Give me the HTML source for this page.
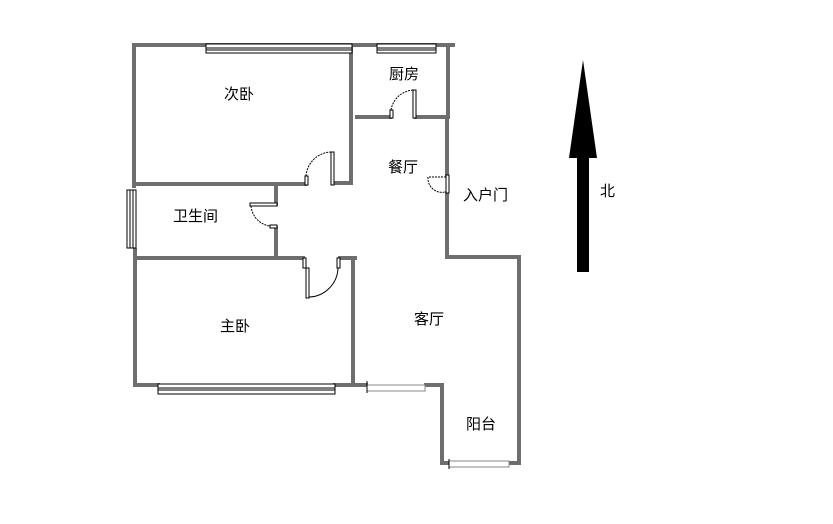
<!DOCTYPE html>
<html><head><meta charset="utf-8"><style>
body{margin:0;background:#fff;width:833px;height:519px;overflow:hidden}
text{font-family:"Liberation Sans","Noto Sans CJK SC",sans-serif;font-size:15px;fill:#000}
</style></head><body>
<svg width="833" height="519" viewBox="0 0 833 519">
<g stroke="#6e6e6e" stroke-width="4" fill="none" stroke-linecap="square">
<path d="M134 45 H453"/>
<path d="M134 45 V186"/>
<path d="M135 250 V385 H158"/>
<path d="M335 385 H366"/>
<path d="M351 45 V183 H334"/>
<path d="M305 184 H134"/>
<path d="M448 45 V117 H416"/>
<path d="M390 117 H357"/>
<path d="M447 117 V175"/>
<path d="M447 193 V257 H519 V463 H509"/>
<path d="M449 463 H442 V385 H426"/>
<path d="M276 186 V204"/>
<path d="M276 228 V257"/>
<path d="M136 258 H303"/>
<path d="M340 258 H355"/>
<path d="M353 260 V383"/>
</g>
<g fill="#fff" stroke="#000" stroke-width="1">
<rect x="206" y="44" width="146" height="9"/><line x1="206" y1="48" x2="352" y2="48"/><line x1="206" y1="50" x2="352" y2="50"/>
<rect x="377" y="44" width="59" height="9"/><line x1="377" y1="48" x2="436" y2="48"/><line x1="377" y1="50" x2="436" y2="50"/>
<rect x="158" y="384" width="177" height="10"/><line x1="158" y1="388" x2="335" y2="388"/><line x1="158" y1="390" x2="335" y2="390"/>
<rect x="127" y="190" width="9" height="58"/><line x1="130" y1="190" x2="130" y2="248"/><line x1="133" y1="190" x2="133" y2="248"/>
</g>
<g stroke="#888" stroke-width="1" fill="#fff">
<rect x="367" y="385" width="58" height="6"/><rect x="449" y="461" width="60" height="6"/>
</g>
<line x1="367" y1="381" x2="367" y2="393" stroke="#000"/>
<line x1="449" y1="459" x2="449" y2="469" stroke="#000"/>
<g stroke="#000" stroke-width="1" fill="#fff">
<rect x="390" y="110" width="3" height="8"/><rect x="413" y="90" width="3" height="28"/>
<path d="M391 110 A24 24 0 0 1 413 90" stroke-dasharray="2,1" fill="none"/>
<rect x="305" y="176" width="3" height="9"/><rect x="331" y="152" width="3" height="33"/>
<path d="M306 176 A26 26 0 0 1 331 152" stroke-dasharray="2,1" fill="none"/>
<rect x="250" y="203" width="27" height="3"/><rect x="270" y="225" width="7" height="3"/>
<path d="M251 206 A22 22 0 0 0 270 226" stroke-dasharray="2,1" fill="none"/>
<rect x="303" y="258" width="3" height="10"/><rect x="306" y="268" width="3" height="30"/><rect x="337" y="258" width="3" height="10"/>
<path d="M309 297 A30 30 0 0 0 338 268" fill="none"/>
<rect x="446" y="175" width="3" height="18"/>
<path d="M446 177 H428 A14 14 0 0 0 445 192" stroke-dasharray="2,1" fill="none"/>
</g>
<polygon points="583,60 569,158 597,158" fill="#000"/>
<rect x="577" y="157" width="12" height="115" fill="#000"/>
<text x="224" y="99">次卧</text>
<text x="389" y="79">厨房</text>
<text x="388" y="172">餐厅</text>
<text x="463" y="200">入户门</text>
<text x="173" y="221">卫生间</text>
<text x="220" y="331">主卧</text>
<text x="414" y="324">客厅</text>
<text x="466" y="429">阳台</text>
<text x="600" y="196">北</text>
</svg>
</body></html>
